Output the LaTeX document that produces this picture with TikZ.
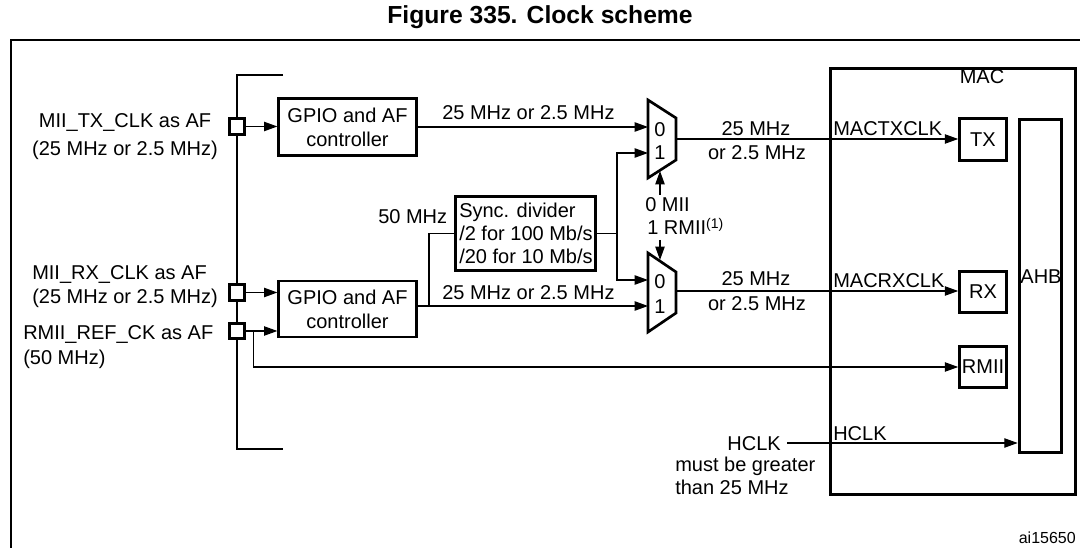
\documentclass[tikz,border=0pt]{standalone}
\usepackage{fontspec}
\setmainfont{Liberation Sans}
\usetikzlibrary{arrows.meta,calc}
\begin{document}
\begin{tikzpicture}[x=0.75pt,y=-0.75pt,
  every node/.style={font=\fontsize{15}{18}\selectfont, inner sep=0pt},
  box/.style={draw, line width=2.2pt},
  wire/.style={line width=0.9pt},
  arr/.style={wire, -{Triangle[length=10pt,width=7pt]}},
  pinbox/.style={draw, fill=white, line width=2.3pt, minimum size=11.5pt},
  muxline/.style={line width=2pt, line join=miter},
  frameline/.style={line width=1.5pt}]
\useasboundingbox (0,0) rectangle (1080,548);

% title and frame
\node[anchor=base, font=\fontsize{18.5}{22}\selectfont\bfseries] (title) at (540,24) {Figure 335. Clock scheme};
\draw[frameline] (11,560) -- (11,40) -- (1090,40);

% I/O bus
\draw[wire] (283,75) -- (237,75) -- (237,449) -- (283,449);

% pins
\node[pinbox] (ptx) at (237,126.5) {};
\node[pinbox] (prx) at (237,292.5) {};
\node[pinbox] (prm) at (237,331) {};

% pin labels
\node[anchor=base] (ltxa) at (125,128) {MII\_TX\_CLK as AF};
\node[anchor=base] (ltxb) at (125,156) {(25 MHz or 2.5 MHz)};
\node[anchor=base west] (lrxa) at (32,280) {MII\_RX\_CLK as AF};
\node[anchor=base west] (lrxb) at (32,304) {(25 MHz or 2.5 MHz)};
\node[anchor=base west] (lrma) at (23,340) {RMII\_REF\_CK as AF};
\node[anchor=base west] (lrmb) at (23,364) {(50 MHz)};

% GPIO controllers
\node[box, minimum width=103pt, minimum height=43pt, align=center] (g1) at (347.5,127) {GPIO and AF\\controller};
\node[box, minimum width=103pt, minimum height=42pt, align=center] (g2) at (347.5,309) {GPIO and AF\\controller};

\draw[arr] (ptx.east) -- (g1.west |- ptx.east);
\draw[arr] (prx.east) -- (g2.west |- prx.east);
\draw[arr] (prm.east) -- (g2.west |- prm.east);

% multiplexers
\draw[muxline] (648,100) -- (676,118) -- (676,160) -- (648,178) -- cycle;
\draw[muxline] (648,253) -- (676,272) -- (676,313) -- (648,332) -- cycle;
\coordinate (m1in0) at (648,127);
\coordinate (m1in1) at (648,153);
\coordinate (m1out) at (676,139);
\coordinate (m1bot) at (660,171);
\coordinate (m2in0) at (648,280);
\coordinate (m2in1) at (648,306);
\coordinate (m2out) at (676,291);
\coordinate (m2top) at (660,260);
\node[anchor=base] (m1z) at (660,137) {0};
\node[anchor=base] (m1o) at (660,160) {1};
\node[anchor=base] (m2z) at (660,289) {0};
\node[anchor=base] (m2o) at (660,314) {1};

% GPIO to muxes
\draw[arr] (g1.east |- m1in0) -- (m1in0);
\draw[arr] (g2.east |- m2in1) -- (m2in1);
\node[anchor=base west] (f1) at (442,120) {25 MHz or 2.5 MHz};
\node[anchor=base west] (f2) at (442,300) {25 MHz or 2.5 MHz};

% sync divider
\node[box, minimum width=105pt, minimum height=56pt] (sync) at (525.5,233.5) {};
\node[anchor=west, align=left, font=\fontsize{15}{17.5}\selectfont] (synct) at (459,233.5) {Sync. divider\\/2 for 100 Mb/s\\/20 for 10 Mb/s};
\node[anchor=base west] (f50) at (378,224) {50 MHz};
\coordinate (tap) at (429,306);
\draw[wire] (tap) |- (sync.west);
\coordinate (sj) at (617,233.5);
\draw[wire] (sync.east) -- (sj);
\draw[arr] (sj) |- (m1in1);
\draw[arr] (sj) |- (m2in0);

% mux select
\node[anchor=base west] (sel0) at (645,212) {0 MII};
\node[anchor=base west] (sel1) at (647,235) {1 RMII\textsuperscript{(1)}};
\coordinate (selu) at (660,195);
\coordinate (seld) at (660,240);
\draw[arr] (selu) -- (m1bot);
\draw[arr] (seld) -- (m2top);

% MAC
\node[draw, line width=2.2pt, minimum width=184pt, minimum height=320pt] (mac) at (953,281.5) {};
\node[anchor=base] (maclbl) at (982,84) {MAC};
\node[box, minimum width=35pt, minimum height=31pt] (tx) at (983,139.5) {TX};
\node[box, minimum width=35pt, minimum height=31pt] (rx) at (983,292) {RX};
\node[box, minimum width=35pt, minimum height=31pt] (rmii) at (983,367) {RMII};
\node[box, minimum width=32pt, minimum height=250pt] (ahb) at (1040.5,286) {};
\node[anchor=base] (ahbt) at (1041,284) {AHB};

% MAC clocks
\draw[arr] (m1out) -- (tx.west |- m1out);
\draw[arr] (m2out) -- (rx.west |- m2out);
\node[anchor=base] (o1a) at (756,136) {25 MHz};
\node[anchor=base] (o1b) at (757,160) {or 2.5 MHz};
\node[anchor=base] (o2a) at (756,286) {25 MHz};
\node[anchor=base] (o2b) at (757,311) {or 2.5 MHz};
\node[anchor=base west] (mtx) at (833,136) {MACTXCLK};
\node[anchor=base west] (mrx) at (833,288) {MACRXCLK};

% RMII reference clock
\coordinate (rbr) at ($(prm.east)+(7,0)$);
\draw[arr] (rbr) |- (rmii.west);

% HCLK
\node[anchor=base east] (hclk) at (781,450) {HCLK};
\coordinate (hs) at (787,443);
\draw[arr] (hs) -- (hs -| ahb.west);
\node[anchor=base west] (hclki) at (833,440) {HCLK};
\node[anchor=base west] (hn1) at (675,471) {must be greater};
\node[anchor=base west] (hn2) at (675,494) {than 25 MHz};

\node[anchor=base east, font=\fontsize{12}{14}\selectfont] (id) at (1076,543) {ai15650};
\end{tikzpicture}
\end{document}
